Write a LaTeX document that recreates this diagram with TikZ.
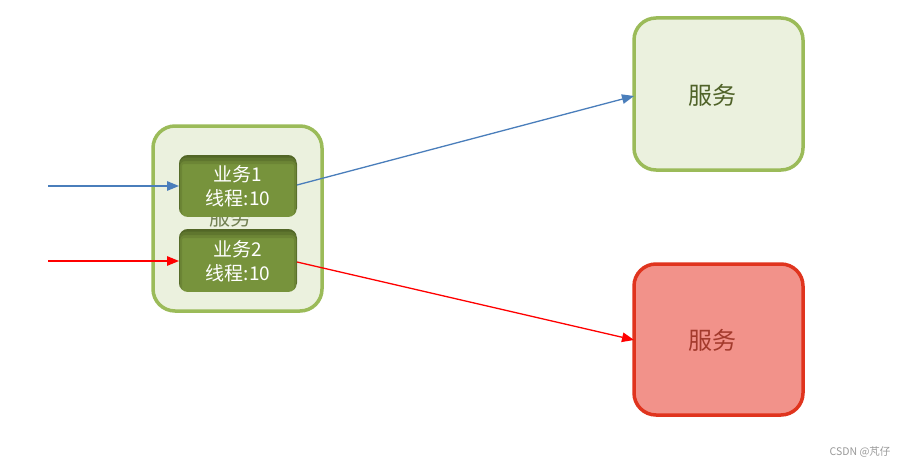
\documentclass[tikz,border=0pt]{standalone}
\usepackage{fontspec}
\newfontfamily\cjk{Noto Sans CJK SC}
\usetikzlibrary{arrows.meta}
\definecolor{gborder}{HTML}{9BBB59}
\definecolor{gfill}{HTML}{EBF1DE}
\definecolor{gtext}{HTML}{4F6228}
\definecolor{olive}{HTML}{77933C}
\definecolor{olivedark}{HTML}{2E3A12}
\definecolor{rborder}{HTML}{E0341E}
\definecolor{rfill}{HTML}{F2928A}
\definecolor{rtext}{HTML}{A33A2C}
\definecolor{blueline}{HTML}{4A7EBB}
\tikzset{
  svc/.style={draw=gborder, line width=3.5pt, fill=gfill, rounded corners=22pt, inner sep=0pt},
  svcred/.style={svc, draw=rborder, fill=rfill},
  biztext/.style={text=white, font=\cjk\fontsize{19}{24}\selectfont, align=center},
  tip/.style={-{Triangle[length=12pt,width=9.5pt]}, line width=1.3pt},
  shad/.style={draw=olivedark, rounded corners=8pt},
}
\newcommand\bizbox[4]{%
  \begin{scope}
    \clip[rounded corners=9pt] (#1,#2) rectangle (#3,#4);
    \fill[olive] (#1,#2) rectangle (#3,#4);
    \draw[shad, opacity=0.15, line width=12pt] (#1-3,#2+3) rectangle (#3+3,#4+25);
    \draw[shad, opacity=0.2, line width=6pt] (#1-2,#2+3) rectangle (#3+2,#4+25);
    \draw[shad, opacity=0.25, line width=3pt] (#1-1,#2+1) rectangle (#3+1,#4+25);
  \end{scope}}
\begin{document}
\begin{tikzpicture}[x=1pt,y=-1pt]
\useasboundingbox (0,0) rectangle (909,468);
\fill[white] (0,0) rectangle (909,468);
% left container
\draw[svc] (153,126) rectangle (322,311);
\node[text=gtext!80, font=\cjk\fontsize{21}{24}\selectfont] (ltxt) at (230,218) {服务};
% inner boxes
\bizbox{179}{155}{297}{217}
\node[biztext] (b1) at (238,186) {业务1\\线程:10};
\bizbox{179}{229}{297}{292}
\node[biztext] (b2) at (238,261) {业务2\\线程:10};
\coordinate (b1w) at (179,186);
\coordinate (b1e) at (297,185);
\coordinate (b2w) at (179,261);
\coordinate (b2e) at (297,262);
% right services
\draw[svc] (634,18) rectangle (803,170);
\node[text=gtext, font=\cjk\fontsize{24}{28}\selectfont] (s1) at (712,95) {服务};
\draw[svcred] (634,264) rectangle (803,415);
\node[text=rtext, font=\cjk\fontsize{24}{28}\selectfont] (s2) at (712,340) {服务};
\coordinate (s1w) at (634,96);
\coordinate (s2w) at (634,340);
% arrows
\coordinate (in1) at (48,186);
\coordinate (in2) at (48,261);
\draw[tip, blueline] (in1) -- (b1w);
\draw[tip, red] (in2) -- (b2w);
\draw[tip, blueline] (b1e) -- (s1w);
\draw[tip, red] (b2e) -- (s2w);
% watermark
\node[text=gray!80, font=\cjk\fontsize{10.5}{12}\selectfont, anchor=east] (wm) at (894,452) {CSDN @芃仔};
\end{tikzpicture}
\end{document}
